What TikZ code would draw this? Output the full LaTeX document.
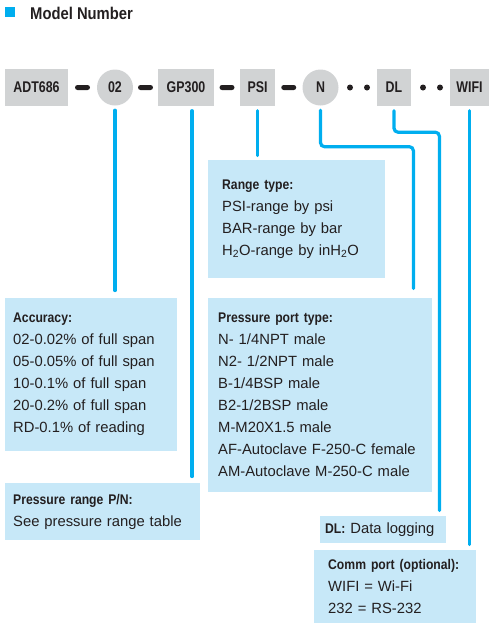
\documentclass[tikz,border=0pt]{standalone}
\usepackage{fontspec}
\setmainfont{Liberation Sans}
\newfontfamily\condfont[FakeStretch=0.87]{Liberation Sans}
\newfontfamily\partfont[FakeStretch=0.8]{Liberation Sans}
\usepackage{xcolor}
\definecolor{boxblue}{HTML}{C7E8F8}
\definecolor{wireblue}{HTML}{00AEEF}
\definecolor{partgray}{HTML}{D1D3D4}
\definecolor{ink}{HTML}{231F20}
\newcommand\boxhead[1]{{\condfont\bfseries\fontsize{14}{22}\selectfont #1}}
\tikzset{
  part/.style={fill=partgray,text=ink,inner sep=0,minimum height=37,font=\partfont\bfseries\fontsize{15.5}{16}\selectfont},
  partc/.style={part,circle,minimum size=36},
  bar/.style={fill=ink,rounded corners=2.5,minimum width=15,minimum height=5,inner sep=0},
  dot/.style={fill=ink,circle,minimum size=6,inner sep=0},
  info/.style={fill=boxblue,text=ink,align=left,anchor=north west,inner ysep=0,font=\fontsize{14.8}{22}\selectfont},
  wire/.style={wireblue,line width=3.2,line cap=round,rounded corners=4,shorten <=4.5},
}
\begin{document}
\begin{tikzpicture}[x=1pt,y=-1pt]
\useasboundingbox (0,0) rectangle (499,633);
\fill[wireblue](5,7) rectangle (15,17);
\node[anchor=west,inner sep=0,text=ink,font=\condfont\bfseries\fontsize{17}{20}\selectfont] (title) at (30,13) {Model Number};
% model code parts
\node[part,minimum width=63] (adt) at (36.5,87.5) {ADT686};
\node[partc] (acc) at (115,87.5) {02};
\node[part,minimum width=56] (gp) at (186,87.5) {GP300};
\node[part,minimum width=35] (psi) at (257.5,87.5) {PSI};
\node[partc] (port) at (320.5,87.5) {N};
\node[part,minimum width=34] (dl) at (394,87.5) {DL};
\node[part,minimum width=39] (wifi) at (469.5,87.5) {WIFI};
\path (adt) -- node[bar] (b1) {} (acc);
\path (acc) -- node[bar] (b2) {} (gp);
\path (gp) -- node[bar] (b3) {} (psi);
\path (psi) -- node[bar] (b4) {} (port);
\foreach \x [count=\i] in {350,367,423,440}
  \node[dot] (d\i) at (\x,87.5) {};
% description boxes
\node[info,inner xsep=8,text width=156,minimum height=153] (accbox) at (5,298) {\boxhead{Accuracy:}\\
02-0.02\% of full span\\05-0.05\% of full span\\10-0.1\% of full span\\20-0.2\% of full span\\RD-0.1\% of reading};
\node[info,inner xsep=8,text width=179,minimum height=57] (prbox) at (5,483) {\boxhead{Pressure range P/N:}\\See pressure range table};
\node[info,inner xsep=14,text width=149,minimum height=118] (rtbox) at (208,160) {\boxhead{Range type:}\\
PSI-range by psi\\BAR-range by bar\\H\textsubscript{2}O-range by inH\textsubscript{2}O};
\node[info,inner xsep=10,text width=204,minimum height=194] (ppbox) at (208,298) {\boxhead{Pressure port type:}\\
N- 1/4NPT male\\N2- 1/2NPT male\\B-1/4BSP male\\B2-1/2BSP male\\M-M20X1.5 male\\AF-Autoclave F-250-C female\\AM-Autoclave M-250-C male};
\node[info,inner xsep=5,text width=116,minimum height=27] (dlbox) at (320,516) {\boxhead{DL:} Data logging};
\node[info,inner xsep=14,text width=134,minimum height=73] (cpbox) at (314,550) {\boxhead{Comm port (optional):}\\
WIFI = Wi-Fi\\232 = RS-232};
% connectors
\draw[wire,shorten >=7.5] (acc.south) -- (acc.south |- accbox.north);
\draw[wire,shorten >=6.5] ([xshift=6]gp.south) -- ([xshift=6]gp.south |- prbox.north);
\draw[wire,shorten >=4.5] (psi.south) -- (psi.south |- rtbox.north);
\draw[wire,shorten >=9.5] (port.south) -- ++(0,41) -| ([xshift=-19]ppbox.north east);
\draw[wire,shorten >=5.5] (dl.south) -- ++(0,26) -| ([xshift=-7]dlbox.north east);
\draw[wire,shorten >=5.5] (wifi.south) -- (wifi.south |- cpbox.north);
\end{tikzpicture}
\end{document}
